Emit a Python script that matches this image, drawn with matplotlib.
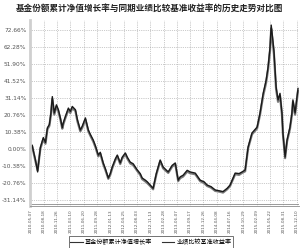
import matplotlib
matplotlib.use("Agg")
import matplotlib.pyplot as plt

plt.rcParams['font.family'] = ['Noto Sans CJK SC', 'DejaVu Sans']

# trading-day index of each sampled point
days = [0, 9, 15, 26, 37, 51, 66, 77, 87, 97, 105, 112, 122, 133, 143, 153, 163, 168,
        179, 194, 204, 214, 230, 240, 255, 265, 281, 296, 306, 321, 332, 347, 357, 372,
        383, 398, 408, 418, 434, 444, 459, 469, 485, 495, 510, 525, 546, 561, 571, 587,
        597, 612, 627, 643, 663, 678, 704, 724, 740, 755, 765, 780, 801, 816, 842, 867,
        887, 903, 923, 944, 964, 984, 1005, 1020, 1046, 1066, 1081, 1097, 1112, 1132,
        1148, 1158, 1173, 1189, 1204, 1214, 1224, 1230, 1237, 1244, 1255, 1265, 1275,
        1285, 1290, 1301, 1311, 1326, 1336, 1341, 1352, 1367]

fund = [0.0, 2.4, -1.0, -6.7, -14.0, 1.0, 7.0, 4.0, 13.0, 15.0, 22.0, 32.0, 22.0, 27.0,
        24.0, 19.0, 13.0, 16.0, 20.0, 25.0, 23.0, 26.0, 24.0, 18.0, 11.6, 14.0, 19.0,
        11.6, 9.0, 5.5, 2.0, -3.7, -2.0, -8.5, -12.0, -17.7, -15.0, -11.0, -6.0, -3.7,
        -8.5, -5.0, -2.4, -5.0, -8.0, -9.0, -12.8, -15.0, -17.7, -19.0, -20.0, -22.0,
        -24.0, -15.0, -6.7, -11.0, -14.0, -10.0, -8.5, -19.0, -17.0, -16.0, -13.0, -14.0,
        -14.7, -19.0, -20.0, -22.0, -23.0, -25.0, -25.5, -26.0, -24.0, -22.0, -14.7,
        -15.0, -14.0, -12.8, 1.2, 9.8, 12.0, 13.4, 22.0, 34.0, 42.0, 50.0, 62.0, 75.7,
        68.0, 60.0, 38.0, 30.0, 34.0, 22.0, 9.8, -4.9, 5.5, 13.4, 22.0, 30.0, 22.0, 37.0]

bench = [0.0, 1.8, -1.5, -7.5, -13.0, 0.2, 6.0, 3.2, 12.0, 14.2, 21.0, 30.5, 21.0, 26.0,
         23.0, 18.2, 12.4, 15.0, 19.0, 24.0, 22.0, 25.0, 23.2, 17.0, 10.8, 13.0, 18.0,
         10.8, 8.2, 4.6, 1.2, -4.5, -2.8, -9.2, -12.8, -18.2, -15.8, -11.8, -6.8, -4.4,
         -9.2, -5.8, -3.2, -5.8, -8.8, -9.8, -13.4, -15.8, -18.4, -19.8, -20.8, -22.6,
         -24.6, -15.8, -7.4, -11.8, -14.6, -10.8, -9.2, -19.6, -17.8, -16.8, -13.8, -14.8,
         -15.4, -19.6, -20.8, -22.6, -23.6, -25.6, -26.0, -26.6, -24.6, -22.6, -15.4,
         -15.8, -14.6, -13.6, 0.4, 9.0, 11.2, 12.6, 21.0, 32.5, 40.5, 48.5, 60.0, 73.5,
         66.0, 58.0, 36.5, 28.8, 32.5, 21.0, 9.0, -5.6, 4.6, 12.4, 21.0, 28.8, 21.0, 35.5]

y_ticks = [-31.14, -20.76, -10.38, 0.00, 10.38, 20.76, 31.14, 41.52, 51.90, 62.28, 72.66]

x_labels = ['2010-05-07', '2010-08-18', '2010-11-26', '2011-03-10', '2011-06-20',
            '2011-09-28', '2012-01-13', '2012-04-25', '2012-08-03', '2012-11-13',
            '2013-02-28', '2013-06-07', '2013-09-17', '2013-12-26', '2014-04-08',
            '2014-07-16', '2014-10-29', '2015-02-09', '2015-05-22', '2015-08-31',
            '2015-12-10']
tick_step = 68

fig = plt.figure(figsize=(3.0, 2.48), dpi=100)
ax = fig.add_axes([30 / 300, 1 - 206 / 248, 269 / 300, 186 / 248])

ax.plot(days, bench, color='#7a7a7a', lw=1.6, label='业绩比较基准收益率')
ax.plot(days, fund, color='#1a1a1a', lw=1.0, label='基金份额累计净值增长率')

ax.set_xlim(-2, 1372)
ax.set_ylim(-34.8, 78.8)
ax.set_yticks(y_ticks)
ax.set_yticklabels(['%.2f%%' % v for v in y_ticks], fontsize=4.2, color='#555555',
                   family='DejaVu Sans')
ax.set_xticks([i * tick_step for i in range(len(x_labels))])
ax.set_xticklabels(x_labels, rotation=90, fontsize=3, color='#555555',
                   family='DejaVu Sans')
ax.tick_params(length=0, pad=2.5)
ax.grid(True, linestyle=':', color='#9a9a9a', lw=0.5)

for s in ['top', 'right']:
    ax.spines[s].set_visible(False)
ax.spines['left'].set_color('#cfcfcf')
ax.spines['left'].set_linewidth(2)
ax.spines['bottom'].set_color('#8a8a8a')
ax.spines['bottom'].set_linewidth(0.6)
ax.axhline(-33.6, color='#8a8a8a', lw=0.6)

fig.text(0.5, 1 - 8 / 248, '基金份额累计净值增长率与同期业绩比较基准收益率的历史走势对比图',
         ha='center', va='center', fontsize=6.2, fontweight='bold', color='#222222')

h, l = ax.get_legend_handles_labels()
leg = fig.legend(h[::-1], l[::-1], loc='center', bbox_to_anchor=(151 / 300, 1 - 242 / 248),
                 ncol=2, fontsize=4.4, frameon=True, fancybox=False, handlelength=2,
                 handletextpad=0.4, columnspacing=1.5, borderpad=0.3)
leg.get_frame().set_edgecolor('#333333')
leg.get_frame().set_linewidth(0.6)
for line in leg.get_lines():
    line.set_color('#333333')
    line.set_linewidth(0.8)

fig.savefig('out.png', dpi=100)
